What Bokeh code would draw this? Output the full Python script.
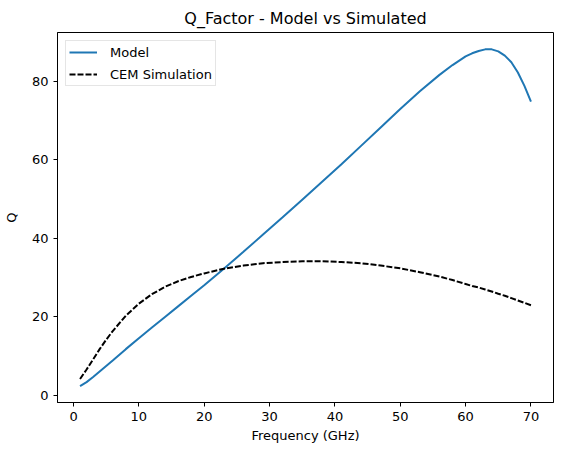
from bokeh.plotting import figure
from bokeh.models import FixedTicker, Legend, LegendItem
from bokeh.embed import file_html
from bokeh.resources import INLINE

freq = [1, 2, 3, 4, 5, 6, 8, 10, 12, 14, 16, 18, 20, 23, 26, 29, 32, 35, 38, 41, 44,
        47, 50, 53, 56, 58, 60, 61, 62, 63, 64, 65, 66, 67, 68, 69, 70]
model_q = [2.3, 3.3, 4.6, 6.0, 7.4, 8.8, 11.7, 14.5, 17.2, 19.9, 22.6, 25.3, 28.0, 32.2,
           36.5, 40.9, 45.3, 49.8, 54.3, 58.8, 63.5, 68.2, 72.9, 77.4, 81.6, 84.1, 86.3,
           87.1, 87.7, 88.1, 88.1, 87.6, 86.5, 84.8, 82.2, 78.8, 74.8]
cem_q = [4.1, 6.5, 9.1, 11.7, 14.1, 16.3, 20.2, 23.3, 25.7, 27.6, 29.0, 30.1, 31.0, 32.2,
         33.0, 33.6, 33.9, 34.1, 34.1, 33.9, 33.6, 33.0, 32.3, 31.3, 30.2, 29.3, 28.3,
         27.8, 27.4, 26.9, 26.4, 25.8, 25.3, 24.7, 24.1, 23.5, 22.9]
x_ticks = [0, 10, 20, 30, 40, 50, 60, 70]
y_ticks = [0, 20, 40, 60, 80]

FONT = "DejaVu Sans"

p = figure(width=562, height=455, output_backend="svg", toolbar_location=None,
           x_range=(-2.45, 73.45), y_range=(-1.9, 92.4),
           title="Q_Factor - Model vs Simulated",
           min_border_left=56, min_border_right=9, min_border_top=32, min_border_bottom=53)

p.title.align = "center"
p.title.text_font = FONT
p.title.text_font_size = "16px"
p.title.text_font_style = "normal"
p.title.text_color = "black"

p.xgrid.visible = False
p.ygrid.visible = False
p.outline_line_color = "black"
p.outline_line_width = 1
p.outline_line_alpha = 1

for ax in (p.xaxis[0], p.yaxis[0]):
    ax.axis_line_color = "black"
    ax.major_tick_line_color = "black"
    ax.major_tick_out = 4
    ax.major_tick_in = 0
    ax.minor_tick_line_color = None
    ax.major_label_text_font = FONT
    ax.major_label_text_font_size = "13px"
    ax.major_label_text_color = "black"
    ax.axis_label_text_font = FONT
    ax.axis_label_text_font_size = "13px"
    ax.axis_label_text_font_style = "normal"
    ax.axis_label_text_color = "black"

p.xaxis.ticker = FixedTicker(ticks=x_ticks)
p.yaxis.ticker = FixedTicker(ticks=y_ticks)
p.xaxis.axis_label = "Frequency (GHz)"
p.yaxis.axis_label = "Q"
p.xaxis.axis_label_standoff = 4
p.yaxis.axis_label_standoff = 10

r1 = p.line(freq, model_q, line_color="#1f77b4", line_width=2)
r2 = p.line(freq, cem_q, line_color="black", line_width=2, line_dash="6 2")

legend = Legend(items=[LegendItem(label="Model", renderers=[r1]),
                       LegendItem(label="CEM Simulation", renderers=[r2])],
                location="top_left")
legend.margin = 8
legend.padding = 3
legend.spacing = 6
legend.glyph_width = 28
legend.glyph_height = 16
legend.label_standoff = 13
legend.label_text_font = FONT
legend.label_text_font_size = "13px"
legend.label_text_color = "black"
legend.border_line_color = "#cccccc"
legend.border_line_width = 1
legend.background_fill_alpha = 0.8
p.add_layout(legend)

open("out.html", "w").write(file_html(p, INLINE))
